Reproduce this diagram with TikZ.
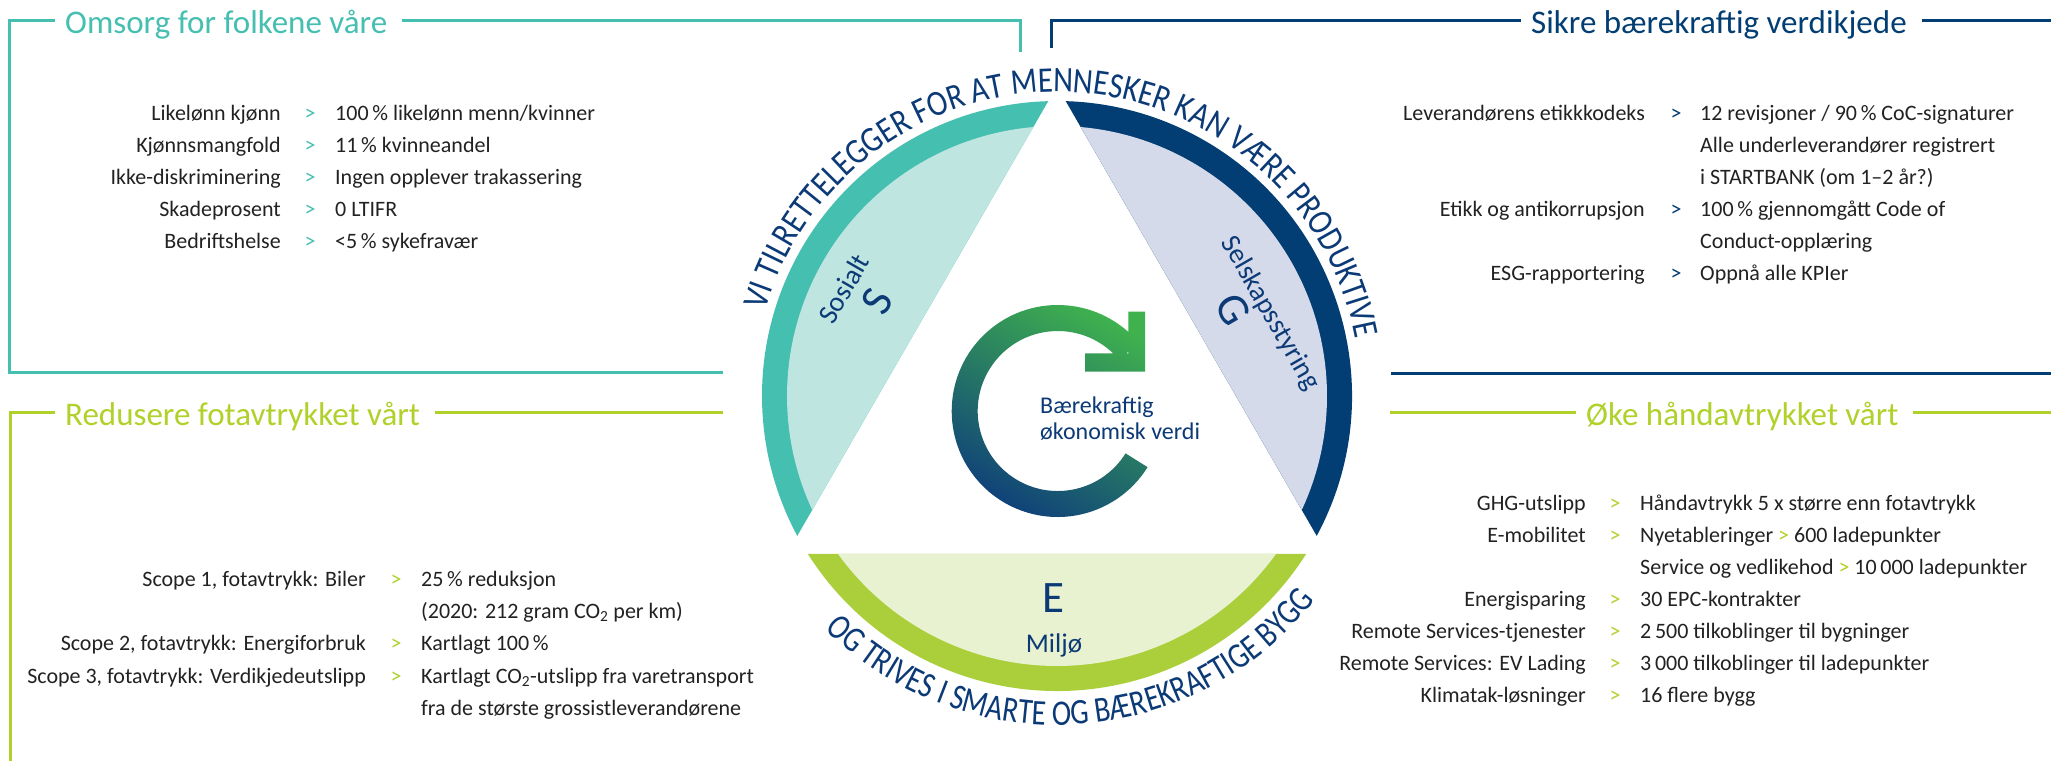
\documentclass[tikz,border=0pt]{standalone}
\usepackage{fontspec}
\setmainfont{Carlito}
\newfontfamily\condfont[FakeStretch=0.85]{Carlito}
\newfontfamily\condfontb[FakeStretch=0.81]{Carlito}
\usetikzlibrary{decorations.text,calc}
\definecolor{teal1}{HTML}{45BFB0}
\definecolor{tealL}{HTML}{BFE5E0}
\definecolor{navy1}{HTML}{023E73}
\definecolor{navyL}{HTML}{D4DAE9}
\definecolor{lime1}{HTML}{AACF3A}
\definecolor{limeL}{HTML}{E8F1D0}
\definecolor{limeT}{HTML}{B0D12A}
\definecolor{txtnavy}{HTML}{0B3A77}
\definecolor{txt}{HTML}{222222}
\definecolor{icgreen}{HTML}{3FB24E}
\definecolor{icteal}{HTML}{157F79}
\definecolor{icnavy}{HTML}{0E3E7B}
\newcommand\curvefont{\condfont\fontsize{36}{36}\selectfont}
\newcommand\curvefontb{\condfontb\fontsize{36}{36}\selectfont}
\newcommand\kpirow[8]{%
  \node[lab] (#1l) at (#3,#2) {#7};
  \node[gt,text=#6] (#1g) at (#4,#2) {>};
  \node[val] (#1v) at (#5,#2) {#8};}
\begin{document}
\begin{tikzpicture}[x=1pt,y=1pt,
  frame/.style={line width=3pt},
  title/.style={font=\fontsize{33}{36}\selectfont, inner sep=0pt, anchor=base west},
  lab/.style={font=\fontsize{22}{24}\selectfont, text=txt, inner sep=0pt, anchor=base east},
  val/.style={font=\fontsize{22}{24}\selectfont, text=txt, inner sep=0pt, anchor=base west},
  gt/.style={font=\fontsize{22}{24}\selectfont, inner sep=0pt, anchor=base},
  seglab/.style={font=\fontsize{28}{30}\selectfont, text=txtnavy, inner sep=0pt},
  bigl/.style={font=\fontsize{45}{47}\selectfont, text=txtnavy, inner sep=0pt},
  ctr/.style={font=\fontsize{24}{26}\selectfont, text=txtnavy, inner sep=0pt, anchor=base west},
]
\useasboundingbox (0,0) rectangle (2051,-761);
\fill[white] (0,0) rectangle (2051,-761);

% ---------- titles and frames ----------
\node[title, text=teal1] (t1) at (65,-33) {Omsorg for folkene våre};
\node[title, text=navy1] (t2) at (1531,-33) {Sikre bærekraftig verdikjede};
\node[title, text=limeT] (t3) at (65,-425) {Redusere fotavtrykket vårt};
\node[title, text=limeT] (t4) at (1586,-425) {Øke håndavtrykket vårt};

\draw[frame, teal1] ($(t1.base west)+(-10,12.3)$) -- (9.3,-20.7) -- (9.3,-372) -- (723,-372);
\draw[frame, teal1] ($(t1.base east)+(15,12.3)$) -- (1020,-20.7) -- (1020,-52);
\draw[frame, navy1] (1051,-48) -- (1051,-20.7) -- ($(t2.base west)+(-10,12.3)$);
\draw[frame, navy1] ($(t2.base east)+(15,12.3)$) -- (2051,-20.7);
\draw[frame, navy1] (1391,-373) -- (2051,-373);
\draw[frame, limeT] ($(t3.base west)+(-10,12.3)$) -- (10,-412.7) -- (10,-761);
\draw[frame, limeT] ($(t3.base east)+(15,12.3)$) -- (723,-412.7);
\draw[frame, limeT] (1390,-412.7) -- ($(t4.base west)+(-10,12.3)$);
\draw[frame, limeT] ($(t4.base east)+(15,12.3)$) -- (2051,-412.7);

% ---------- circle segments ----------
\coordinate (C) at (1057,-396);
\begin{scope}[shift={(C)}, rotate=60]
  \fill[teal1] ({90-acos(155/295)}:295) arc[start angle={90-acos(155/295)}, end angle={90+acos(155/295)}, radius=295] -- cycle;
  \fill[tealL] ({90-acos(155/270)}:270) arc[start angle={90-acos(155/270)}, end angle={90+acos(155/270)}, radius=270] -- cycle;
  \node[seglab, rotate=60] (sos) at (-13.4,238.5) {Sosialt};
  \node[bigl, rotate=60] (S) at (-8,203) {S};
\end{scope}
\begin{scope}[shift={(C)}, rotate=-60]
  \fill[navy1] ({90-acos(155/295)}:295) arc[start angle={90-acos(155/295)}, end angle={90+acos(155/295)}, radius=295] -- cycle;
  \fill[navyL] ({90-acos(155/270)}:270) arc[start angle={90-acos(155/270)}, end angle={90+acos(155/270)}, radius=270] -- cycle;
  \node[seglab, rotate=-60] (sel) at (35.1,225.7) {Selskapsstyring};
  \node[bigl, rotate=-60] (G) at (13,196.3) {G};
\end{scope}
\begin{scope}[shift={(C)}, rotate=180]
  \fill[lime1] ({90-acos(158/295)}:295) arc[start angle={90-acos(158/295)}, end angle={90+acos(158/295)}, radius=295] -- cycle;
  \fill[limeL] ({90-acos(158/270)}:270) arc[start angle={90-acos(158/270)}, end angle={90+acos(158/270)}, radius=270] -- cycle;
\end{scope}
\node[bigl] (E) at (1053,-598) {E};
\node[seglab, font=\fontsize{27}{29}\selectfont, anchor=base] (milj) at (1054,-652) {Miljø};

% ---------- curved texts ----------
\path[decorate, decoration={text along path, text align=center, text color=txtnavy,
  text={|\curvefont|VI TILRETTELEGGER FOR AT MENNESKER KAN VÆRE PRODUKTIVE}}]
  ([shift={(172.25:304)}]C) arc[start angle=172.25, end angle=2.25, radius=304];
\path[decorate, decoration={text along path, text align=center, text color=txtnavy,
  text={|\curvefontb|OG TRIVES I SMARTE OG BÆREKRAFTIGE BYGG}}]
  ([shift={(188.4:329)}]C) arc[start angle=188.4, end angle=358.4, radius=329];

% ---------- centre icon ----------
\begin{scope}[shift={(1057.7,-411)}]
  \shade[top color=icgreen, middle color=icteal, bottom color=icnavy, shading angle=-30]
    (40:106) arc[start angle=40, end angle=328, radius=106] -- (328:80)
    arc[start angle=328, end angle=40, radius=80] -- cycle
    (70.6,99.3) -- (70.6,57.7) -- (27.3,57.7) -- (27.3,39.3) -- (87.3,39.3) -- (87.3,99.3) -- cycle;
\end{scope}
\node[ctr] (bk1) at (1040,-413) {Bærekraftig};
\node[ctr] (bk2) at (1040,-439) {økonomisk verdi};

% ---------- top left list ----------
\kpirow{a1}{-120}{281}{310}{335}{teal1}{Likelønn kjønn}{100\,\% likelønn menn/kvinner}
\kpirow{a2}{-152.5}{281}{310}{335}{teal1}{Kjønnsmangfold}{11\,\% kvinneandel}
\kpirow{a3}{-184.5}{281}{310}{335}{teal1}{Ikke-diskriminering}{Ingen opplever trakassering}
\kpirow{a4}{-216}{281}{310}{335}{teal1}{Skadeprosent}{0 LTIFR}
\kpirow{a5}{-248}{281}{310}{335}{teal1}{Bedriftshelse}{<5\,\% sykefravær}

% ---------- top right list ----------
\kpirow{b1}{-120}{1645}{1676}{1700}{navy1}{Leverandørens etikkkodeks}{12 revisjoner / 90\,\% CoC-signaturer}
\node[val] (b1c) at (1700,-152.5) {Alle underleverandører registrert};
\node[val] (b1d) at (1700,-184.5) {i STARTBANK (om 1–2 år?)};
\kpirow{b2}{-216}{1645}{1676}{1700}{navy1}{Etikk og antikorrupsjon}{100\,\% gjennomgått Code of}
\node[val] (b2c) at (1700,-248) {Conduct-opplæring};
\kpirow{b3}{-280}{1645}{1676}{1700}{navy1}{ESG-rapportering}{Oppnå alle KPIer}

% ---------- bottom left list ----------
\kpirow{c1}{-586}{366}{396}{421}{limeT}{Scope 1, fotavtrykk: Biler}{25\,\% reduksjon}
\node[val] (c1c) at (421,-618) {(2020: 212 gram CO\textsubscript{2} per km)};
\kpirow{c2}{-650}{366}{396}{421}{limeT}{Scope 2, fotavtrykk: Energiforbruk}{Kartlagt 100\,\%}
\kpirow{c3}{-683}{366}{396}{421}{limeT}{Scope 3, fotavtrykk: Verdikjedeutslipp}{Kartlagt CO\textsubscript{2}-utslipp fra varetransport}
\node[val] (c3c) at (421,-715) {fra de største grossistleverandørene};

% ---------- bottom right list ----------
\kpirow{d1}{-510}{1586}{1615}{1640}{limeT}{GHG-utslipp}{Håndavtrykk 5 x større enn fotavtrykk}
\kpirow{d2}{-542}{1586}{1615}{1640}{limeT}{E-mobilitet}{Nyetableringer \textcolor{limeT}{>} 600 ladepunkter}
\node[val] (d2c) at (1640,-574) {Service og vedlikehod \textcolor{limeT}{>} 10\,000 ladepunkter};
\kpirow{d3}{-606}{1586}{1615}{1640}{limeT}{Energisparing}{30 EPC-kontrakter}
\kpirow{d4}{-638}{1586}{1615}{1640}{limeT}{Remote Services-tjenester}{2\,500 tilkoblinger til bygninger}
\kpirow{d5}{-670}{1586}{1615}{1640}{limeT}{Remote Services: EV Lading}{3\,000 tilkoblinger til ladepunkter}
\kpirow{d6}{-702}{1586}{1615}{1640}{limeT}{Klimatak-løsninger}{16 flere bygg}
\end{tikzpicture}
\end{document}
